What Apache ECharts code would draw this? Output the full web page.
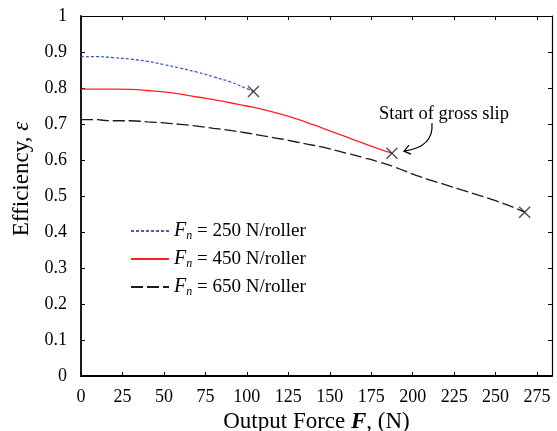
<!DOCTYPE html>
<html><head><meta charset="utf-8">
<script src="https://cdn.jsdelivr.net/npm/echarts@6/dist/echarts.min.js"></script>
<style>html,body{margin:0;padding:0;background:#fff}#c{width:557px;height:431px}</style>
</head><body><div id="c"></div>
<script>
// ---- data ----
const force250 = [0, 10, 20, 30, 40, 50, 60, 70, 80, 90, 100, 104];
const eff250   = [0.887, 0.887, 0.884, 0.880, 0.874, 0.865, 0.855, 0.844, 0.831, 0.817, 0.798, 0.790];
const force450 = [0, 10, 20, 30, 40, 50, 60, 70, 80, 90, 100, 110, 120, 130, 140, 150, 160, 170, 180, 187.5];
const eff450   = [0.797, 0.797, 0.797, 0.796, 0.793, 0.789, 0.783, 0.775, 0.768, 0.759, 0.750, 0.740, 0.728, 0.714, 0.698, 0.681, 0.664, 0.647, 0.630, 0.619];
const force650 = [0, 10, 14, 20, 30, 40, 50, 60, 70, 80, 90, 100, 110, 120, 130, 140, 150, 160, 170, 180, 190, 200, 210, 220, 230, 240, 250, 260, 267.5];
const eff650   = [0.712, 0.712, 0.710, 0.709, 0.709, 0.706, 0.703, 0.699, 0.694, 0.688, 0.682, 0.675, 0.667, 0.659, 0.650, 0.641, 0.631, 0.619, 0.607, 0.594, 0.579, 0.561, 0.545, 0.531, 0.516, 0.502, 0.487, 0.470, 0.455];
const slipForce = [104, 187.5, 267.5];
const slipEff   = [0.790, 0.619, 0.455];
const seriesNames = ['250', '450', '650'];
const annotationText = 'Start of gross slip';

const serif = "'Liberation Serif','Times New Roman',serif";
const zip = (xs, ys) => xs.map((x, i) => [x, ys[i]]);

const chart = echarts.init(document.getElementById('c'), null, {renderer: 'canvas'});

const axisCommon = {
  min: 0,
  axisLine: {show: true, onZero: false, lineStyle: {color: '#000', width: 1.8}},
  axisTick: {show: true, inside: true, length: 4, lineStyle: {color: '#000', width: 1}},
  splitLine: {show: false}
};
const frameLine = {show: true, onZero: false, lineStyle: {color: '#000', width: 1.2}};

const option = {
  animation: false,
  backgroundColor: '#fff',
  grid: {left: 81, right: 5, top: 16, bottom: 55, containLabel: false, outerBoundsMode: 'none'},
  xAxis: [
    Object.assign({}, axisCommon, {
      type: 'value', position: 'bottom', max: 284, interval: 25,
      axisLabel: {color: '#000', fontFamily: serif, fontSize: 18, margin: 12,
        formatter: v => (v % 25 === 0 ? String(v) : '')},
      name: '{a|Output Force }{b|F}{a|, (N)}',
      nameLocation: 'middle', nameGap: 30,
      nameTextStyle: {rich: {
        a: {fontFamily: serif, fontSize: 23, color: '#000'},
        b: {fontFamily: serif, fontSize: 23, color: '#000', fontStyle: 'italic', fontWeight: 'bold'}
      }}
    }),
    Object.assign({}, axisCommon, {
      type: 'value', position: 'top', max: 284, interval: 25,
      axisLine: frameLine,
      axisLabel: {show: false}
    })
  ],
  yAxis: [
    Object.assign({}, axisCommon, {
      type: 'value', position: 'left', max: 1, interval: 0.1,
      axisLabel: {color: '#000', fontFamily: serif, fontSize: 18, margin: 14}
    }),
    Object.assign({}, axisCommon, {
      type: 'value', position: 'right', max: 1, interval: 0.1,
      axisLine: frameLine,
      axisLabel: {show: false}
    })
  ],
  legend: {
    orient: 'vertical', left: 130, top: 220, padding: 0, itemGap: 6, itemWidth: 38, itemHeight: 14,
    data: seriesNames,
    itemStyle: {opacity: 0},
    formatter: n => '{i|F}{s|n}{t| = ' + n + ' N/roller}',
    textStyle: {fontFamily: serif, fontSize: 19, color: '#000', rich: {
      i: {fontFamily: serif, fontSize: 20, fontStyle: 'italic', color: '#000', lineHeight: 22},
      s: {fontFamily: serif, fontSize: 12, fontStyle: 'italic', color: '#000', lineHeight: 22, verticalAlign: 'bottom', padding: [10, 0, 0, 0]},
      t: {fontFamily: serif, fontSize: 19, color: '#000', lineHeight: 22}
    }}
  },
  series: [
    {name: seriesNames[0], type: 'line', data: zip(force250, eff250), symbol: 'none', smooth: true,
      lineStyle: {color: '#3d5fb5', width: 1.3, type: [3, 2]}, itemStyle: {color: '#3d5fb5'}},
    {name: seriesNames[1], type: 'line', data: zip(force450, eff450), symbol: 'none', smooth: true,
      lineStyle: {color: '#ff2020', width: 1.3, type: 'solid'}, itemStyle: {color: '#ff2020'}},
    {name: seriesNames[2], type: 'line', data: zip(force650, eff650), symbol: 'none', smooth: true,
      lineStyle: {color: '#1a1a1a', width: 1.3, type: [12, 4]}, itemStyle: {color: '#1a1a1a'}},
    {name: 'slip', type: 'scatter', data: zip(slipForce, slipEff), symbolSize: 11,
      symbol: 'path://M0,0L10,10M10,0L0,10',
      itemStyle: {color: 'none', borderColor: '#222', borderWidth: 1.4}, z: 5}
  ]
};
chart.setOption(option);

// annotation anchored to the red curve's slip point
const p = chart.convertToPixel({xAxisIndex: 0, yAxisIndex: 0}, [slipForce[1], slipEff[1]]);
const tip = [p[0] + 12, p[1] - 2];
const start = [p[0] + 40, p[1] - 30];
chart.setOption({
  graphic: [
    {type: 'text', silent: true, x: 22, y: 179, rotation: Math.PI / 2,
      style: {text: '{a|Efficiency, }{b|ε}', rich: {
        a: {fontFamily: serif, fontSize: 23, fill: '#000'},
        b: {fontFamily: serif, fontSize: 23, fill: '#000', fontStyle: 'italic'}
      }, align: 'center', verticalAlign: 'middle'}},
    {type: 'text', silent: true,
      style: {text: annotationText, fontFamily: serif, fontSize: 18.5, fill: '#000', align: 'center', verticalAlign: 'middle'},
      x: p[0] + 52, y: p[1] - 39},
    {type: 'bezierCurve', silent: true,
      shape: {x1: start[0], y1: start[1], x2: tip[0], y2: tip[1], cpx1: start[0] + 2, cpy1: tip[1] - 4},
      style: {stroke: '#000', lineWidth: 1.2, fill: 'none'}},
    {type: 'polyline', silent: true,
      shape: {points: [[tip[0] + 5, tip[1] - 6], tip, [tip[0] + 7, tip[1] + 3]]},
      style: {stroke: '#000', lineWidth: 1.2, fill: 'none'}}
  ]
});
</script></body></html>
